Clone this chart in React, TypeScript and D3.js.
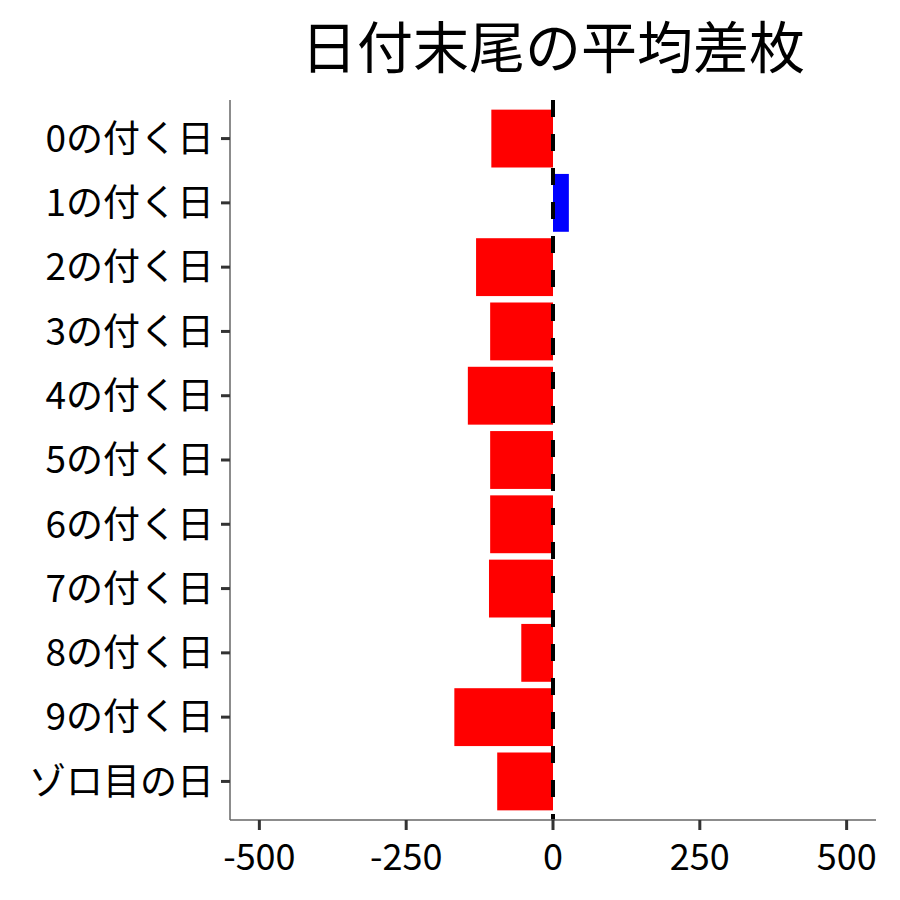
import React from 'react';
import * as d3 from 'd3';

const categories = [
  '0の付く日', '1の付く日', '2の付く日', '3の付く日', '4の付く日', '5の付く日',
  '6の付く日', '7の付く日', '8の付く日', '9の付く日', 'ゾロ目の日',
];
const values = [-105, 27, -131, -107, -145, -107, -107, -109, -54, -168, -95];
const xTicks = [-500, -250, 0, 250, 500];
const title = '日付末尾の平均差枚';

const FONT = '"Noto Sans CJK JP", "Noto Sans", sans-serif';

const App: React.FC = () => {
  const width = 900;
  const height = 900;
  const margin = { top: 100, right: 24, bottom: 80, left: 230 };
  const innerW = width - margin.left - margin.right;
  const innerH = height - margin.top - margin.bottom;

  const x = d3.scaleLinear().domain([-550, 550]).range([0, innerW]);
  // discrete scale with 0.6 padding each side, like ggplot
  const y = d3.scalePoint<string>()
    .domain(categories)
    .range([0, innerH])
    .padding(0.6);
  const step = y.step();
  const barH = step * 0.9;

  return (
    <div style={{ margin: -8 }}>
      <svg width={width} height={height} style={{ display: 'block', fontFamily: FONT }}>
        <rect width={width} height={height} fill="#fff" />
        <text x={margin.left + x(0)} y={68} textAnchor="middle" fontSize={56} fill="#000">
          {title}
        </text>
        <g transform={`translate(${margin.left},${margin.top})`}>
          {categories.map((c, i) => {
            const v = values[i];
            const x0 = x(Math.min(0, v));
            const x1 = x(Math.max(0, v));
            return (
              <rect
                key={c}
                x={x0}
                y={(y(c) as number) - barH / 2}
                width={x1 - x0}
                height={barH}
                fill={v < 0 ? '#ff0000' : '#0000ff'}
              />
            );
          })}
          <line
            x1={x(0)} x2={x(0)} y1={0} y2={innerH}
            stroke="#000" strokeWidth={4} strokeDasharray="17 17"
          />
          {/* y axis */}
          <line x1={0} x2={0} y1={0} y2={innerH} stroke="#666" strokeWidth={1.5} />
          {categories.map((c) => (
            <g key={c} transform={`translate(0,${y(c)})`}>
              <line x1={-9} x2={0} stroke="#333" strokeWidth={3} />
              <text x={-16} dy="0.36em" textAnchor="end" fontSize={37} fill="#000">
                {c}
              </text>
            </g>
          ))}
          {/* x axis */}
          <line x1={0} x2={innerW} y1={innerH} y2={innerH} stroke="#666" strokeWidth={1.5} />
          {xTicks.map((t) => (
            <g key={t} transform={`translate(${x(t)},${innerH})`}>
              <line y1={0} y2={10} stroke="#333" strokeWidth={3} />
              <text y={50} textAnchor="middle" fontSize={36} fill="#000">
                {t}
              </text>
            </g>
          ))}
        </g>
      </svg>
    </div>
  );
};

export default App;
